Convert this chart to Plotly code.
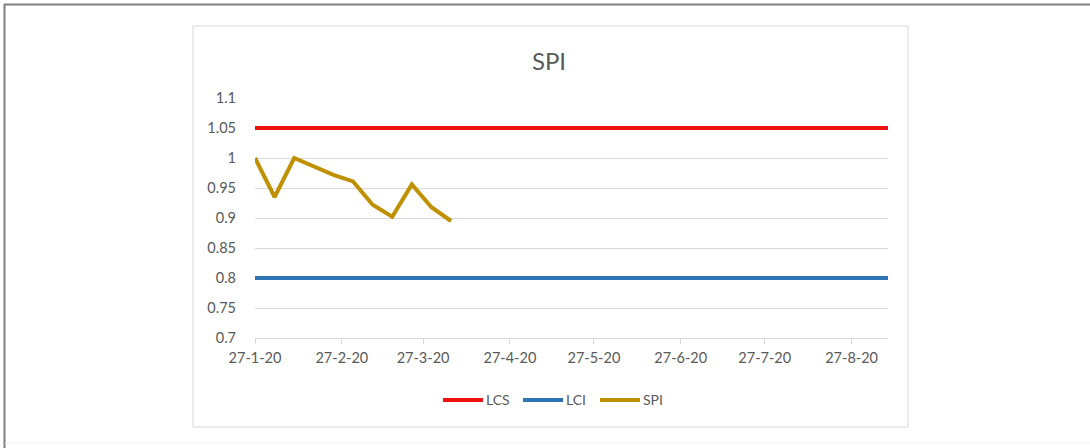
import plotly.graph_objects as go

# Weekly schedule performance index readings
dates = ["2020-01-27", "2020-02-03", "2020-02-10", "2020-02-17", "2020-02-24",
         "2020-03-02", "2020-03-09", "2020-03-16", "2020-03-23", "2020-03-30",
         "2020-04-06"]
spi = [1.0, 0.935, 1.0, 0.986, 0.972, 0.961, 0.922, 0.902, 0.956, 0.918, 0.895]

# Control limits spanning the whole time axis
limit_dates = ["2020-01-27", "2020-09-09"]
lcs = [1.05, 1.05]
lci = [0.80, 0.80]

x_ticks = ["2020-01-27", "2020-02-27", "2020-03-27", "2020-04-27",
           "2020-05-27", "2020-06-27", "2020-07-27", "2020-08-27"]
x_tick_text = ["27-1-20", "27-2-20", "27-3-20", "27-4-20",
               "27-5-20", "27-6-20", "27-7-20", "27-8-20"]
y_ticks = [0.7, 0.75, 0.8, 0.85, 0.9, 0.95, 1.0, 1.05, 1.1]
y_tick_text = ["0.7", "0.75", "0.8", "0.85", "0.9", "0.95", "1", "1.05", "1.1"]

series_names = ["LCS", "LCI", "SPI"]
series_colors = ["#EE1111", "#2E75B6", "#BF9000"]

W, H = 1090, 448
L, R, T, B = 255, 888, 98, 338
TEXT = "#595959"
FONT = "Lato"

def px(x):
    return (x - L) / (R - L)

def py(y):
    return (B - y) / (B - T)

fig = go.Figure()
for name, xs, ys, color in zip(series_names,
                               [limit_dates, limit_dates, dates],
                               [lcs, lci, spi], series_colors):
    fig.add_trace(go.Scatter(x=xs, y=ys, name=name, mode="lines",
                             line=dict(color=color, width=4)))

shapes = [
    # inner chart frame
    dict(type="rect", xref="paper", yref="paper",
         x0=px(193), x1=px(908), y0=py(427), y1=py(26),
         line=dict(color="#D9D9D9", width=1), layer="below"),
    # outer frame
    dict(type="line", xref="paper", yref="paper",
         x0=px(4), x1=px(1090), y0=py(4.5), y1=py(4.5),
         line=dict(color="#7F7F7F", width=2)),
    dict(type="line", xref="paper", yref="paper",
         x0=px(4.5), x1=px(4.5), y0=py(4), y1=py(448),
         line=dict(color="#7F7F7F", width=2)),
    dict(type="line", xref="paper", yref="paper",
         x0=px(5), x1=px(1090), y0=py(443), y1=py(443),
         line=dict(color="#EEEEEE", width=1)),
]

# legend row below the axis: swatch line followed by the series name
annotations = []
legend_starts = [443, 523, 600]
legend_y = 400
for name, color, x0 in zip(series_names, series_colors, legend_starts):
    shapes.append(dict(type="line", xref="paper", yref="paper",
                       x0=px(x0), x1=px(x0 + 40), y0=py(legend_y), y1=py(legend_y),
                       line=dict(color=color, width=4)))
    annotations.append(dict(text=name, xref="paper", yref="paper",
                            x=px(x0 + 41), y=py(legend_y - 1),
                            xanchor="left", yanchor="middle", showarrow=False,
                            font=dict(family=FONT, size=14, color=TEXT)))

fig.update_layout(
    width=W, height=H,
    margin=dict(l=L, r=W - R, t=T, b=H - B),
    paper_bgcolor="white", plot_bgcolor="white",
    font=dict(family=FONT, color=TEXT, size=14),
    title=dict(text="SPI", x=px(549), xref="paper", xanchor="center",
               y=1 - 62 / H, yanchor="middle",
               font=dict(family=FONT, size=24, color=TEXT)),
    showlegend=False,
    shapes=shapes,
    annotations=annotations,
)

fig.update_xaxes(
    type="date", range=["2020-01-27", "2020-09-09"],
    tickvals=x_ticks, ticktext=x_tick_text,
    showgrid=False, showline=True, linecolor="#D9D9D9", linewidth=1,
    ticks="outside", ticklen=5, tickcolor="#D9D9D9",
    ticklabelstandoff=2,
    tickfont=dict(family=FONT, size=14.5, color=TEXT), zeroline=False,
)
fig.update_yaxes(
    range=[0.7, 1.1], tickvals=y_ticks, ticktext=y_tick_text,
    showgrid=True, gridcolor="#D9D9D9", gridwidth=1,
    showline=False, zeroline=False, ticks="",
    ticklabelstandoff=18,
    tickfont=dict(family=FONT, size=14.5, color=TEXT),
)

fig.write_html("out.html")
